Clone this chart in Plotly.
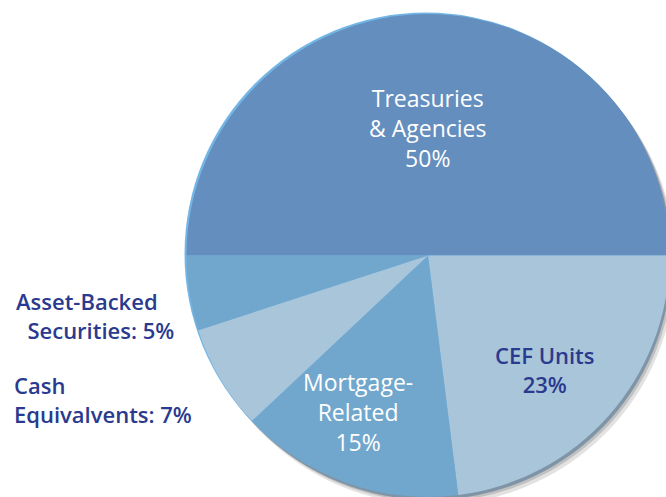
import plotly.graph_objects as go

labels = ["Treasuries & Agencies", "CEF Units", "Mortgage-Related", "Cash Equivalvents", "Asset-Backed Securities"]
values = [50, 23, 15, 7, 5]
colors = ["#638EBE", "#A8C5DA", "#71A7CD", "#A8C5DA", "#71A7CD"]

# figure slightly larger than the window; the pie is cropped at right/bottom like the original
W, H = 680, 505
CX, CY, R = 428, 255.5, 241.5


def dom(dx, dy):
    cx, cy = CX + dx, CY + dy
    return dict(x=[(cx - R) / W, (cx + R) / W], y=[(H - (cy + R)) / H, (H - (cy - R)) / H])


fig = go.Figure()
# soft drop shadow, rim shadow and top-left highlight (whole-pie discs)
for dx, dy, col in [(6, 8, "rgba(60,60,60,0.15)"), (4, 5, "rgba(60,60,60,0.2)"),
                    (2, 3, "#7F95A7"), (-2, -1.5, "#73B6E6")]:
    fig.add_trace(go.Pie(values=[sum(values)], marker=dict(colors=[col], line=dict(width=0)),
                         textinfo="none", hoverinfo="skip", sort=False, showlegend=False,
                         domain=dom(dx, dy)))

fig.add_trace(go.Pie(
    labels=labels, values=values, sort=False, direction="clockwise", rotation=-90,
    marker=dict(colors=colors, line=dict(width=0)),
    textinfo="none", hoverinfo="label+percent",
    domain=dom(0, 0), showlegend=False,
))

navy = "#2A3A8E"
FONT = "Open Sans"
NB = "\u00a0"
lab = [
    ("Treasuries<br>& Agencies<br>%d%%" % values[0], 427, 128, "white", "center", "center", 23, 400),
    ("CEF Units<br>%d%%" % values[1], 545, 369, navy, "center", "center", 22, 600),
    ("Mortgage-<br>Related<br>%d%%" % values[2], 358, 412, "white", "center", "center", 23, 400),
    ("Cash<br>Equivalvents: %d%%" % values[3], 12, 399, navy, "left", "left", 22, 600),
    ("Asset-Backed<br>" + NB * 2 + "Securities: %d%%" % values[4], 14, 315, navy, "left", "left", 22, 600),
]
for t, x, y, c, xa, al, sz, wt in lab:
    fig.add_annotation(text=t, x=x / W, y=1 - y / H, xref="paper", yref="paper",
                       xanchor=xa, yanchor="middle", align=al, showarrow=False,
                       font=dict(family=FONT, size=sz, color=c, weight=wt))

fig.update_layout(width=W, height=H, autosize=False, margin=dict(l=0, r=0, t=0, b=0),
                  paper_bgcolor="white", plot_bgcolor="white")
fig.write_html("out.html", config={"displayModeBar": False},
               post_script="document.body.style.margin='0';document.body.style.overflow='hidden';"
                           "document.documentElement.style.overflow='hidden';")
